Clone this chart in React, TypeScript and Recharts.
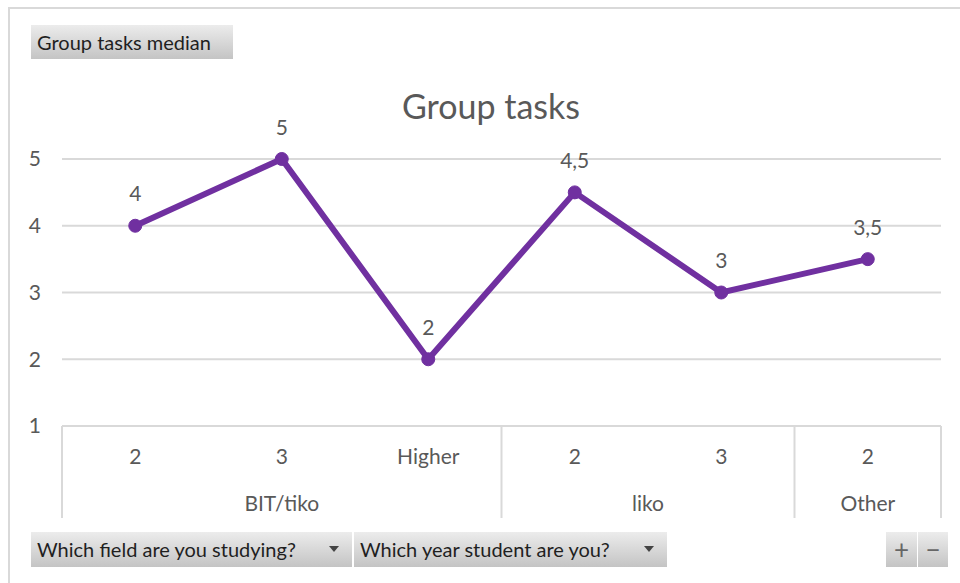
import React from 'react';
import { LineChart, Line, XAxis, YAxis, CartesianGrid, LabelList } from 'recharts';

const years = ['2', '3', 'Higher', '2', '3', '2'];
const fields = ['BIT/tiko', 'BIT/tiko', 'BIT/tiko', 'liko', 'liko', 'Other'];
const medians = [4, 5, 2, 4.5, 3, 3.5];
const yTicks = [1, 2, 3, 4, 5];

const W = 960;
const H = 583;
const M = { top: 159, right: 19, left: 0, bottom: 0 };
const Y_W = 62;
const BAND = (W - M.left - M.right - Y_W) / years.length;
const PAD = { left: BAND / 2, right: BAND / 2 };

const FONT = 'Lato, "Open Sans", sans-serif';
const GRAY = '#595959';
const LINE = '#d9d9d9';

const data = years.map((y, i) => ({ id: i, year: y, field: fields[i], value: medians[i] }));

const YearTick = ({ x, y, payload }: any) => (
  <text x={x} y={y + 27} textAnchor="middle" dominantBaseline="central" fill={GRAY} fontSize={21} fontFamily={FONT}>
    {years[payload.value]}
  </text>
);

const FieldTick = ({ x, y, index }: any) => {
  const first = index === 0 || fields[index - 1] !== fields[index];
  const last = index === fields.length - 1;
  let n = 0;
  if (first) {
    while (index + n < fields.length && fields[index + n] === fields[index]) n++;
  }
  const left = x - BAND / 2;
  return (
    <g>
      {first && <line x1={left} x2={left} y1={y - 50} y2={y + 42} stroke={LINE} strokeWidth={2} />}
      {last && <line x1={x + BAND / 2} x2={x + BAND / 2} y1={y - 50} y2={y + 42} stroke={LINE} strokeWidth={2} />}
      {first && (
        <text x={left + (n * BAND) / 2} y={y + 26} textAnchor="middle" dominantBaseline="central" fill={GRAY} fontSize={21} fontFamily={FONT}>
          {fields[index]}
        </text>
      )}
    </g>
  );
};

const ValueLabel = ({ x, y, value }: any) => (
  <text x={x} y={y - 33} textAnchor="middle" dominantBaseline="central" fill={GRAY} fontSize={21} fontFamily={FONT}>
    {String(value).replace('.', ',')}
  </text>
);

const btn: React.CSSProperties = {
  position: 'absolute',
  background: 'linear-gradient(#ececec, #c4c4c4)',
  color: '#1f1f1f',
  fontFamily: FONT,
  fontSize: 20,
  lineHeight: '35px',
  height: 35,
  boxSizing: 'border-box',
  paddingLeft: 6,
  whiteSpace: 'nowrap',
};

const Arrow = ({ left }: { left: number }) => (
  <span style={{ position: 'absolute', left, top: 14, width: 0, height: 0, borderLeft: '5px solid transparent', borderRight: '5px solid transparent', borderTop: '6px solid #444' }} />
);

export default function App() {
  return (
    <div style={{ position: 'absolute', left: 0, top: 0, width: W, height: H, background: '#fff', overflow: 'hidden' }}>
      <div style={{ position: 'absolute', left: 8, top: 7, width: W, height: 2, background: LINE }} />
      <div style={{ position: 'absolute', left: 8, top: 7, width: 2, height: H, background: LINE }} />
      <div style={{ position: 'absolute', left: 0, top: 0 }}>
        <LineChart width={W} height={H} data={data} margin={M}>
          <CartesianGrid vertical={false} stroke={LINE} strokeWidth={2} />
          <XAxis dataKey="id" padding={PAD} tick={<YearTick />} axisLine={{ stroke: LINE, strokeWidth: 2 }} tickLine={false} height={50} tickSize={0} interval={0} />
          <XAxis xAxisId="field" dataKey="id" padding={PAD} tick={<FieldTick />} axisLine={false} tickLine={false} height={107} tickSize={0} tickMargin={0} interval={0} />
          <YAxis domain={[1, 5]} ticks={yTicks} width={Y_W} axisLine={false} tickLine={false} tickSize={0} tickMargin={21} tick={{ fill: GRAY, fontSize: 21, fontFamily: FONT }} />
          <Line dataKey="value" stroke="#7030a0" strokeWidth={6} dot={{ r: 6.5, fill: '#7030a0', stroke: '#7030a0', strokeWidth: 1 }} isAnimationActive={false}>
            <LabelList dataKey="value" content={<ValueLabel />} />
          </Line>
        </LineChart>
      </div>
      <div style={{ position: 'absolute', left: 0, width: 982, top: 85, textAlign: 'center', fontFamily: FONT, fontSize: 34, color: GRAY }}>
        Group tasks
      </div>
      <div style={{ ...btn, left: 31, top: 25, width: 202, height: 34, lineHeight: '34px' }}>Group tasks median</div>
      <div style={{ ...btn, left: 31, top: 532, width: 321 }}>
        Which field are you studying?
        <Arrow left={298} />
      </div>
      <div style={{ ...btn, left: 354, top: 532, width: 313 }}>
        Which year student are you?
        <Arrow left={290} />
      </div>
      <div style={{ ...btn, left: 886, top: 532, width: 31, paddingLeft: 0, textAlign: 'center', fontSize: 26, color: '#666' }}>+</div>
      <div style={{ ...btn, left: 918, top: 532, width: 30, paddingLeft: 0, textAlign: 'center', fontSize: 26, color: '#666' }}>−</div>
    </div>
  );
}
